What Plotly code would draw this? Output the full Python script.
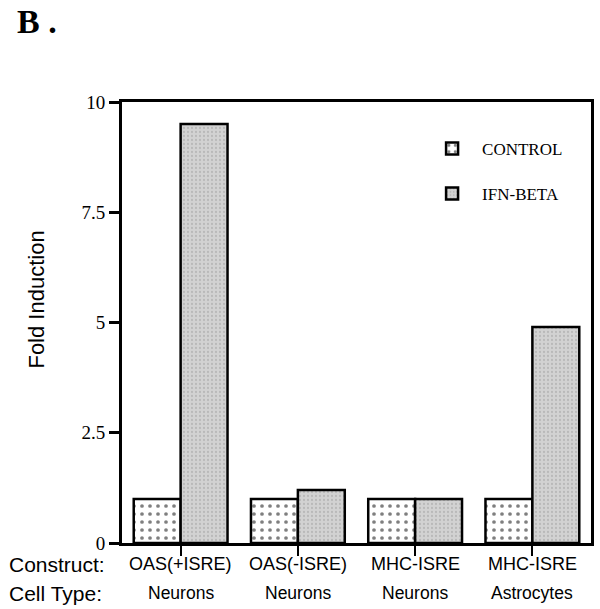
import plotly.graph_objects as go

positions = [0, 1, 2, 3]
constructs = ["OAS(+ISRE)", "OAS(-ISRE)", "MHC-ISRE", "MHC-ISRE"]
cell_types = ["Neurons", "Neurons", "Neurons", "Astrocytes"]
control = [1.0, 1.0, 1.0, 1.0]
ifn_beta = [9.5, 1.2, 1.0, 4.9]
y_tickvals = [0, 2.5, 5, 7.5, 10]
y_ticktext = ["0", "2.5", "5", "7.5", "10"]

SERIF = "Liberation Serif, Times New Roman, serif"
SANS = "Liberation Sans, Arial, sans-serif"

L, R, T, B = 122, 6, 102, 66
W, H = 600, 609
PW, PH = W - L - R, H - T - B


def px_x(px):
    return (px - L) / PW


def px_y(py):
    return (H - B - py) / PH


fig = go.Figure()
fig.add_trace(go.Bar(
    x=positions, y=control, name="CONTROL", width=0.4, offset=-0.4,
    marker=dict(color="white", line=dict(color="black", width=2.5),
                pattern=dict(shape=".", fgcolor="black", bgcolor="white", size=8, solidity=0.17)),
    legend="legend",
))
fig.add_trace(go.Bar(
    x=positions, y=ifn_beta, name="IFN-BETA", width=0.4, offset=0,
    marker=dict(color="#c9c9c9", line=dict(color="black", width=2.5),
                pattern=dict(shape=".", fgcolor="#a0a0a0", bgcolor="#d2d2d2", size=4, solidity=0.25)),
    legend="legend2",
))

annotations = []
for p, c, t in zip(positions, constructs, cell_types):
    annotations.append(dict(x=p, y=px_y(564), xref="x", yref="paper", text=c, showarrow=False,
                            font=dict(family=SANS, size=18, color="black"), yanchor="middle"))
    annotations.append(dict(x=p, y=px_y(593), xref="x", yref="paper", text=t, showarrow=False,
                            font=dict(family=SANS, size=17.5, color="black"), yanchor="middle"))
annotations.append(dict(x=px_x(6), y=px_y(564), xref="paper", yref="paper", text="Construct:",
                        showarrow=False, xanchor="left", yanchor="middle",
                        font=dict(family=SANS, size=21, color="black")))
annotations.append(dict(x=px_x(6), y=px_y(593), xref="paper", yref="paper", text="Cell Type:",
                        showarrow=False, xanchor="left", yanchor="middle",
                        font=dict(family=SANS, size=21, color="black")))
annotations.append(dict(x=px_x(14), y=px_y(22), xref="paper", yref="paper", text="<b>B .</b>",
                        showarrow=False, xanchor="left", yanchor="middle",
                        font=dict(family=SERIF, size=34, color="black")))
annotations.append(dict(x=px_x(35), y=px_y(300), xref="paper", yref="paper", text="Fold Induction",
                        showarrow=False, textangle=-90, xanchor="center", yanchor="middle",
                        font=dict(family=SANS, size=22, color="black")))

fig.update_layout(
    width=W, height=H,
    margin=dict(l=L, r=R, t=T, b=B),
    paper_bgcolor="white", plot_bgcolor="white",
    barmode="overlay",
    showlegend=True,
    legend=dict(x=px_x(424), y=px_y(149), xanchor="left", yanchor="middle", itemwidth=50,
                font=dict(family=SERIF, size=17, color="black"), bgcolor="rgba(0,0,0,0)"),
    legend2=dict(x=px_x(424), y=px_y(194), xanchor="left", yanchor="middle", itemwidth=50,
                 font=dict(family=SERIF, size=17, color="black"), bgcolor="rgba(0,0,0,0)"),
    annotations=annotations,
    xaxis=dict(range=[-0.5, 3.5], tickvals=positions, showticklabels=False,
               ticks="outside", ticklen=10, tickwidth=2, tickcolor="black",
               showline=True, linecolor="black", linewidth=2.5, mirror=True,
               showgrid=False, zeroline=False, fixedrange=True),
    yaxis=dict(range=[0, 10], tickvals=y_tickvals, ticktext=y_ticktext,
               ticks="outside", ticklen=10, tickwidth=2.5, tickcolor="black",
               tickfont=dict(family=SERIF, size=19, color="black"),
               showline=True, linecolor="black", linewidth=3, mirror=True,
               showgrid=False, zeroline=False),
)

fig.write_html("out.html", config={"displayModeBar": False},
               post_script="document.body.style.margin='0';document.body.style.overflow='hidden';")
